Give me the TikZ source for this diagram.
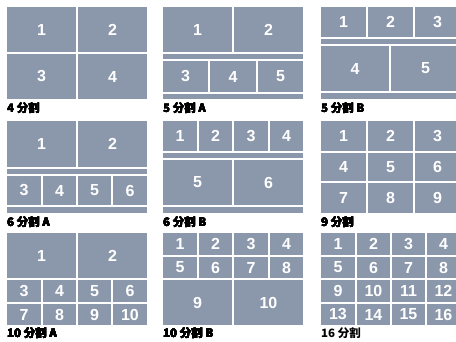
\documentclass[tikz,border=0pt]{standalone}
\usepackage{fontspec}
\setmainfont{Liberation Sans}
\newfontfamily\cjk{Noto Sans CJK JP}
\definecolor{pane}{RGB}{139,151,171}
% one screen cell: name, x1, y1, x2, y2, number
\newcommand\cell[6]{\node[cell, minimum width={(#4-#2)*1pt}, minimum height={(#5-#3)*1pt}] (#1) at ({(#2+#4)/2},{(#3+#5)/2}) {#6};}

\begin{document}
\begin{tikzpicture}[x=1pt, y=-1pt, cell/.style={fill=pane, draw=none, inner sep=0, outer sep=0, text=white, font=\bfseries\fontsize{16}{16}\selectfont}, lbl/.style={anchor=west, inner sep=0, font=\cjk\bfseries\fontsize{11.5}{11.5}\selectfont}]
\useasboundingbox (0,0) rectangle (456,342);
% 4 split
\foreach \n/\xa/\ya/\xb/\yb in {1/7/7/76/52, 2/78/7/147/52, 3/7/54/76/99, 4/78/54/147/99} \cell{q\n}{\xa}{\ya}{\xb}{\yb}{\n}
\node[lbl] (lq) at (7,108) {4 分割};
% 5 split A
\foreach \n/\xa/\ya/\xb/\yb in {1/163/7/232/52, 2/234/7/303/52, 3/163/61/208/92, 4/210/61/256/92, 5/258/61/303/92} \cell{fa\n}{\xa}{\ya}{\xb}{\yb}{\n}
\cell{fas1}{163}{54}{303}{59}{} \cell{fas2}{163}{94}{303}{99}{}
\node[lbl] (lfa) at (163,108) {5 分割 A};
% 5 split B
\foreach \n/\xa/\ya/\xb/\yb in {1/321/7/366/37, 2/368/7/413/37, 3/415/7/460/37, 4/321/46/389/91, 5/391/46/460/91} \cell{fb\n}{\xa}{\ya}{\xb}{\yb}{\n}
\cell{fbs1}{321}{39}{460}{44}{} \cell{fbs2}{321}{93}{460}{99}{}
\node[lbl] (lfb) at (321,108) {5 分割 B};
% 6 split A
\foreach \n/\xa/\ya/\xb/\yb in {1/7/121/76/167, 2/78/121/147/167, 3/7/176/41/205, 4/43/176/76/205, 5/78/176/111/205, 6/113/176/147/205} \cell{sa\n}{\xa}{\ya}{\xb}{\yb}{\n}
\cell{sas1}{7}{169}{147}{174}{} \cell{sas2}{7}{207}{147}{213}{}
\node[lbl] (lsa) at (7,222) {6 分割 A};
% 6 split B
\foreach \n/\xa/\ya/\xb/\yb in {1/163/121/197/151, 2/199/121/232/151, 3/234/121/268/151, 4/270/121/303/151, 5/163/160/232/205, 6/234/160/303/205} \cell{sb\n}{\xa}{\ya}{\xb}{\yb}{\n}
\cell{sbs1}{163}{153}{303}{158}{} \cell{sbs2}{163}{207}{303}{213}{}
\node[lbl] (lsb) at (163,222) {6 分割 B};
% 9 split
\foreach \n/\xa/\ya/\xb/\yb in {1/321/121/366/151, 2/368/121/413/151, 3/415/121/460/151, 4/321/153/366/181, 5/368/153/413/181, 6/415/153/460/181, 7/321/183/366/213, 8/368/183/413/213, 9/415/183/460/213} \cell{n\n}{\xa}{\ya}{\xb}{\yb}{\n}
\node[lbl] (ln) at (321,222) {9 分割};
% 10 split A
\foreach \n/\xa/\ya/\xb/\yb in {1/7/233/76/278, 2/78/233/147/278, 3/7/280/41/302, 4/43/280/76/302, 5/78/280/111/302, 6/113/280/147/302, 7/7/304/41/325, 8/43/304/76/325, 9/78/304/111/325, 10/113/304/147/325} \cell{ta\n}{\xa}{\ya}{\xb}{\yb}{\n}
\node[lbl] (lta) at (7,333) {10 分割 A};
% 10 split B
\foreach \n/\xa/\ya/\xb/\yb in {1/163/233/197/255, 2/199/233/232/255, 3/234/233/268/255, 4/270/233/303/255, 5/163/257/197/278, 6/199/257/232/278, 7/234/257/268/278, 8/270/257/303/278, 9/163/280/232/325, 10/234/280/303/325} \cell{tb\n}{\xa}{\ya}{\xb}{\yb}{\n}
\node[lbl] (ltb) at (163,333) {10 分割 B};
% 16 split
\foreach \r/\ya/\yb [count=\i from 0] in {0/233/255, 1/257/278, 2/280/302, 3/304/325}
  \foreach \c/\xa/\xb [count=\j from 1] in {0/321/355, 1/357/390, 2/392/425, 3/427/460} {
    \pgfmathtruncatemacro\n{4*\i+\j}
    \cell{x\n}{\xa}{\ya}{\xb}{\yb}{\n}
  }
\node[lbl] (lx) at (321,333) {16 分割};
\end{tikzpicture}
\end{document}
